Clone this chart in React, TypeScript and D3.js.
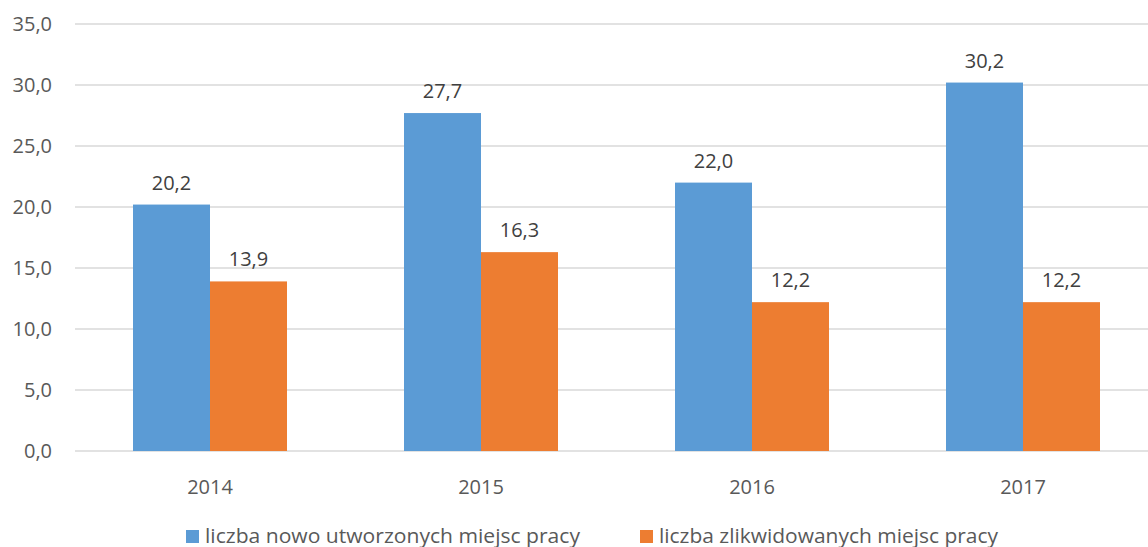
import React from "react";
import * as d3 from "d3";

const categories = ["2014", "2015", "2016", "2017"];
const seriesNames = ["liczba nowo utworzonych miejsc pracy", "liczba zlikwidowanych miejsc pracy"];
const createdJobs = [20.2, 27.7, 22.0, 30.2];
const liquidatedJobs = [13.9, 16.3, 12.2, 12.2];
const yTicks = [0, 5, 10, 15, 20, 25, 30, 35];
const colors = ["#5B9BD5", "#ED7D31"];

const W = 1148;
const H = 547;
const FONT = "'Open Sans', 'Noto Sans', sans-serif";

export default function App() {
  const y = d3.scaleLinear().domain([0, 35]).range([451, 24]);
  const x0 = d3.scaleBand<string>().domain(categories).range([74.5, 1158.5]).paddingInner(0).paddingOuter(0);
  const x1 = d3.scaleBand<string>().domain(["0", "1"]).range([58.5, 212.5]).padding(0);
  const fmt = (v: number) => v.toFixed(1).replace(".", ",");
  const series = [createdJobs, liquidatedJobs];

  return (
    <svg width={W} height={H} style={{ position: "absolute", left: 0, top: 0, background: "#fff" }} fontFamily={FONT}>
      {yTicks.map((t) => (
        <g key={t}>
          <line x1={75} x2={W} y1={y(t)} y2={y(t)} stroke="#D9D9D9" strokeWidth={1.3} />
          <text x={52} y={y(t) + 7} textAnchor="end" fontSize={20} fill="#595959">
            {fmt(t)}
          </text>
        </g>
      ))}
      {categories.map((c, i) => (
        <g key={c} transform={`translate(${x0(c)},0)`}>
          {series.map((s, j) => (
            <g key={j}>
              <rect
                x={x1(String(j))}
                y={y(s[i])}
                width={x1.bandwidth()}
                height={y(0) - y(s[i])}
                fill={colors[j]}
              />
              <text
                x={(x1(String(j)) as number) + x1.bandwidth() / 2}
                y={y(s[i]) - 15}
                textAnchor="middle"
                fontSize={20}
                fill="#404040"
              >
                {fmt(s[i])}
              </text>
            </g>
          ))}
          <text x={x0.bandwidth() / 2} y={494} textAnchor="middle" fontSize={20} fill="#595959">
            {c}
          </text>
        </g>
      ))}
      <g>
        <rect x={186} y={530} width={13} height={13} fill={colors[0]} />
        <text x={205} y={543} fontSize={20} fill="#595959" textLength={375} lengthAdjust="spacingAndGlyphs">
          {seriesNames[0]}
        </text>
        <rect x={640} y={530} width={13} height={13} fill={colors[1]} />
        <text x={659} y={543} fontSize={20} fill="#595959" textLength={339} lengthAdjust="spacingAndGlyphs">
          {seriesNames[1]}
        </text>
      </g>
    </svg>
  );
}
